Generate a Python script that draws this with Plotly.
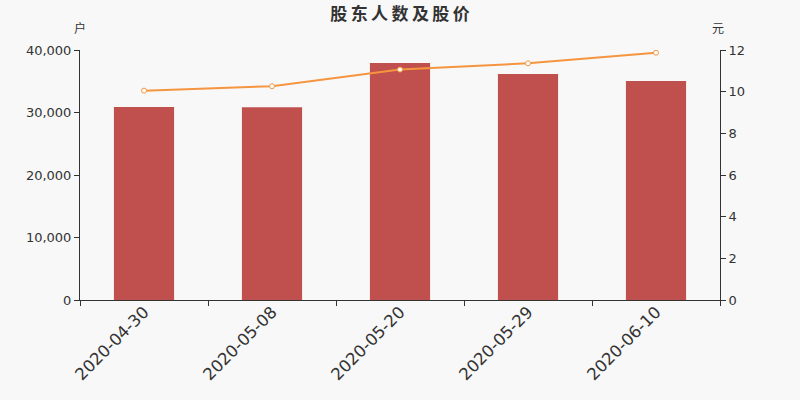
import plotly.graph_objects as go

dates = ["2020-04-30", "2020-05-08", "2020-05-20", "2020-05-29", "2020-06-10"]
holders = [30880, 30850, 37920, 36160, 35040]
price = [10.05, 10.26, 11.06, 11.36, 11.87]

bar_color = "#c0504d"
line_color = "#f5953f"
text_color = "#333333"

fig = go.Figure()

# shareholders as bars on the left axis
fig.add_trace(go.Bar(x=dates, y=holders, name="股东人数",
                     marker=dict(color=bar_color, line=dict(width=0)),
                     yaxis="y"))

# share price as a line on the right axis
fig.add_trace(go.Scatter(x=dates, y=price, name="股价", yaxis="y2",
                         mode="lines+markers",
                         line=dict(color=line_color, width=2),
                         marker=dict(size=5, color="white",
                                     line=dict(color=line_color, width=1))))

title = "\u2009".join("股东人数及股价")

fig.update_layout(
    width=800, height=400,
    paper_bgcolor="#f8f8f8", plot_bgcolor="#f8f8f8",
    margin=dict(l=80, r=80, t=50, b=100),
    font=dict(family="DejaVu Sans, Noto Sans CJK SC", color=text_color, size=13),
    showlegend=False,
    bargap=0.53,
    title=dict(text="<b>" + title + "</b>", x=0.5, xanchor="center",
               y=0.965, yanchor="middle",
               font=dict(size=17, color=text_color,
                         family="Noto Sans CJK SC")),
    xaxis=dict(type="category", showgrid=False, showline=True,
               linecolor=text_color, linewidth=1, ticks="outside",
               tickson="boundaries", ticklen=5, tickcolor=text_color,
               tickangle=-45, tickfont=dict(size=16.5), automargin=False,
               ticklabelstandoff=-5),
    yaxis=dict(range=[0, 40000], dtick=10000, tickformat=",",
               showgrid=False, zeroline=False, showline=True,
               linecolor=text_color, linewidth=1, ticks="outside",
               ticklen=5, tickcolor=text_color, automargin=False),
    yaxis2=dict(range=[0, 12], dtick=2, overlaying="y", side="right",
                showgrid=False, zeroline=False, showline=True,
                linecolor=text_color, linewidth=1, ticks="outside",
                ticklen=5, tickcolor=text_color, automargin=False),
    annotations=[
        dict(text="户", xref="paper", yref="paper", x=0, y=1.09,
             xanchor="center", yanchor="middle", showarrow=False,
             font=dict(size=12, family="Noto Sans CJK SC")),
        dict(text="元", xref="paper", yref="paper", x=0.997, y=1.09,
             xanchor="center", yanchor="middle", showarrow=False,
             font=dict(size=12, family="Noto Sans CJK SC")),
    ],
)

fig.write_html("out.html", config={"displayModeBar": False},
               post_script="document.body.style.margin='0';")
